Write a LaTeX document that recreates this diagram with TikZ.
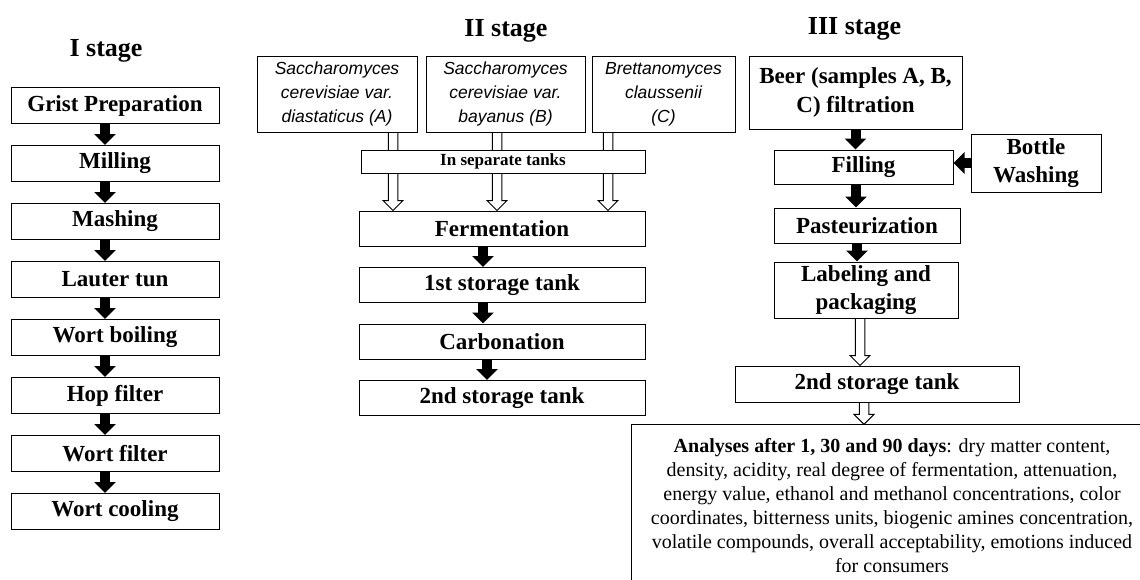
\documentclass[tikz,border=0pt]{standalone}
\usepackage{fontspec}
\setmainfont{Liberation Serif}
\newfontfamily\yeastfont{Liberation Sans}
\usetikzlibrary{
  arrows.meta,
  positioning,
  calc,
}
\tikzstyle{process} = [
rectangle,
draw,
line width=1pt,
inner sep=0pt,
align=center,
font=\fontsize{23}{28.5}\selectfont\bfseries
]
\tikzstyle{yeast} = [
rectangle,
draw,
line width=1pt,
inner sep=0pt,
align=center,
minimum height=76pt,
font=\fontsize{17.5}{24}\selectfont\yeastfont\itshape
]
\tikzstyle{title} = [anchor=base, font=\fontsize{26}{30}\selectfont\bfseries]
\tikzstyle{blk} = [draw, line width=10pt, -{Triangle[length=11pt,width=21pt]}]
\tikzstyle{hollow} = [draw, line width=1pt, fill=white, line join=miter]
\newcommand{\hollowarrow}[2]{%
  \path[hollow] let \p1=#1, \p2=#2 in
    (\x1-4.75pt,\y1-0.5pt) -- (\x1-4.75pt,\y2+10pt) -- (\x1-10pt,\y2+10pt) --
    (\x1,\y2) -- (\x1+10pt,\y2+10pt) -- (\x1+4.75pt,\y2+10pt) -- (\x1+4.75pt,\y1-0.5pt);
}

\begin{document}
\begin{tikzpicture}[x=1pt, y=-1pt]
  \useasboundingbox (0,0) rectangle (1140,579);
  \clip (0,0) rectangle (1140,579);

  % Stage titles
  \node [title] (t1) at (106,56.7) {I stage};
  \node [title] (t2) at (506,36) {II stage};
  \node [title] (t3) at (854.5,34) {III stage};

  % I stage
  \begin{scope}[node distance=21pt, every node/.append style={minimum width=208pt, minimum height=36pt}]
  \node [process] (grist) at (115,105.5) {Grist Preparation};
  \node [process, below=of grist] (milling) {Milling};
  \node [process, below=of milling] (mashing) {Mashing};
  \node [process, below=of mashing] (lauter) {Lauter tun};
  \node [process, below=of lauter] (boiling) {Wort boiling};
  \node [process, below=of boiling] (hop) {Hop filter};
  \node [process, below=of hop] (wfilter) {Wort filter};
  \node [process, below=of wfilter] (cooling) {Wort cooling};
  \end{scope}

  % II stage
  \node [yeast, minimum width=160pt] (yeastA) at (337,94) {Saccharomyces\\cerevisiae var.\\diastaticus (A)};
  \node [yeast, minimum width=159pt] (yeastB) at (505.5,94) {Saccharomyces\\cerevisiae var.\\bayanus (B)};
  \node [yeast, minimum width=143pt] (yeastC) at (663.5,94) {Brettanomyces\\claussenii\\(C)};
  \begin{scope}[node distance=20.5pt, every node/.append style={minimum width=286pt, minimum height=35pt}]
  \node [process] (ferm) at (502,228.5) {Fermentation};
  \node [process, below=of ferm] (store1) {1st storage tank};
  \node [process, below=of store1] (carb) {Carbonation};
  \node [process, below=of carb] (store2) {2nd storage tank};
  \end{scope}

  % III stage
  \node [process, minimum width=213pt, minimum height=73pt] (beer) at (855.5,92.5) {Beer (samples A, B,\\C) filtration};
  \node [process, minimum width=179pt, minimum height=34pt] (filling) at (863.5,167) {Filling};
  \node [process, minimum width=130pt, minimum height=58pt] (bottle) at (1036,163) {Bottle\\Washing};
  \node [process, minimum width=186pt, minimum height=35pt] (past) at (867,225.5) {Pasteurization};
  \node [process, minimum width=184pt, minimum height=56pt] (label) at (866,290) {Labeling and\\packaging};
  \node [process, minimum width=284pt, minimum height=36pt] (store3) at (877,384) {2nd storage tank};
  \node [process, minimum width=522pt, minimum height=161pt, font=\fontsize{20}{24.1}\selectfont] (analyses) at (892,505.4)
    {\textbf{Analyses after 1, 30 and 90 days}: dry matter content,\\
     density, acidity, real degree of fermentation, attenuation,\\
     energy value, ethanol and methanol concentrations, color\\
     coordinates, bitterness units, biogenic amines concentration,\\
     volatile compounds, overall acceptability, emotions induced\\
     for consumers};

  % Draw edges
  \path [blk] ([xshift=-10pt]grist.south) -- ([xshift=-10pt]milling.north);
  \path [blk] ([xshift=-10pt]milling.south) -- ([xshift=-10pt]mashing.north);
  \path [blk] ([xshift=-10pt]mashing.south) -- ([xshift=-10pt]lauter.north);
  \path [blk] ([xshift=-10pt]lauter.south) -- ([xshift=-10pt]boiling.north);
  \path [blk] ([xshift=-10pt]boiling.south) -- ([xshift=-10pt]hop.north);
  \path [blk] ([xshift=-10pt]hop.south) -- ([xshift=-10pt]wfilter.north);
  \path [blk] ([xshift=-10pt]wfilter.south) -- ([xshift=-10pt]cooling.north);

  \hollowarrow{([xshift=56pt]yeastA.south)}{(ferm.north)}
  \hollowarrow{([xshift=-8.5pt]yeastB.south)}{(ferm.north)}
  \hollowarrow{([xshift=-55.5pt]yeastC.south)}{(ferm.north)}
  % tanks box goes over the arrows
  \node [process, fill=white, minimum width=284pt, minimum height=23pt, font=\fontsize{17}{20}\selectfont\bfseries] (tanks) at (503,161.5) {In separate tanks};

  \path [blk] ([xshift=-19pt]ferm.south) -- ([xshift=-19pt]store1.north);
  \path [blk] ([xshift=-19pt]store1.south) -- ([xshift=-19pt]carb.north);
  \path [blk] ([xshift=-15pt]carb.south) -- ([xshift=-15pt]store2.north);

  \path [blk] (beer.south) -- (beer.south |- filling.north);
  \path [blk] (bottle.west) -- (bottle.west -| filling.east);
  \path [blk] ([xshift=-7.5pt]filling.south) -- ([xshift=-11pt]past.north);
  \path [blk] ([xshift=-10pt]past.south) -- ([xshift=-9pt]label.north);
  \hollowarrow{([xshift=-6pt]label.south)}{(store3.north)}
  \hollowarrow{([xshift=-13pt]store3.south)}{(analyses.north)}

\end{tikzpicture}
\end{document}
